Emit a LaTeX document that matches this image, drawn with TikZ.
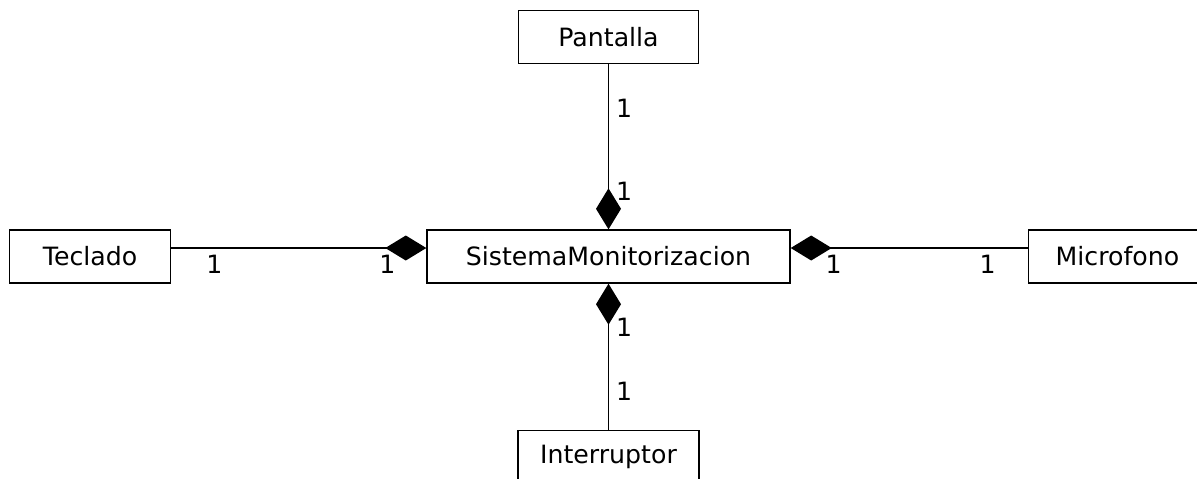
\documentclass[tikz,border=0pt]{standalone}
\usepackage{fontspec}
\setmainfont{DejaVu Sans}
\usetikzlibrary{positioning}
\usetikzlibrary{arrows.meta}

\begin{document}
\begin{tikzpicture}[x=0.5pt,y=-0.5pt,font=\fontsize{12.6}{15}\selectfont,
  cls/.style={draw,line width=0.7pt,inner sep=0pt,minimum height=26.5pt},
  comp/.style={line width=0.7pt,{Diamond[length=20.5pt,width=12.5pt]}-},
  mult/.style={inner sep=0pt}]
\useasboundingbox (0,0) rectangle (1197,478);
\node[cls,minimum width=181.5pt](sis) at (608.5,256.5) {SistemaMonitorizacion};
\node[cls,minimum width=90pt,above=82.5pt of sis](pan) {Pantalla};
\node[cls,minimum width=80.5pt,left=127.5pt of sis](tec) {Teclado};
\node[cls,minimum width=89pt,right=118.5pt of sis](mic) {Microfono};
\node[cls,minimum width=90.5pt,below=73pt of sis](int) {Interruptor};
\draw[comp] (sis.north) -- node[mult,pos=0.23,anchor=west,xshift=3.5pt]{1}
  node[mult,pos=0.733,anchor=west,xshift=3.5pt]{1} (pan.south);
\draw[comp] (sis.south) -- node[mult,pos=0.30,anchor=west,xshift=3.5pt]{1}
  node[mult,pos=0.74,anchor=west,xshift=3.5pt]{1} (int.north);
\draw[comp] ([yshift=4.25pt]sis.west) -- node[mult,pos=0.153,yshift=-8pt]{1}
  node[mult,pos=0.831,yshift=-8pt]{1} ([yshift=4.25pt]tec.east);
\draw[comp] ([yshift=4.25pt]sis.east) -- node[mult,pos=0.181,yshift=-8pt]{1}
  node[mult,pos=0.831,yshift=-8pt]{1} ([yshift=4.25pt]mic.west);
\end{tikzpicture}
\end{document}
